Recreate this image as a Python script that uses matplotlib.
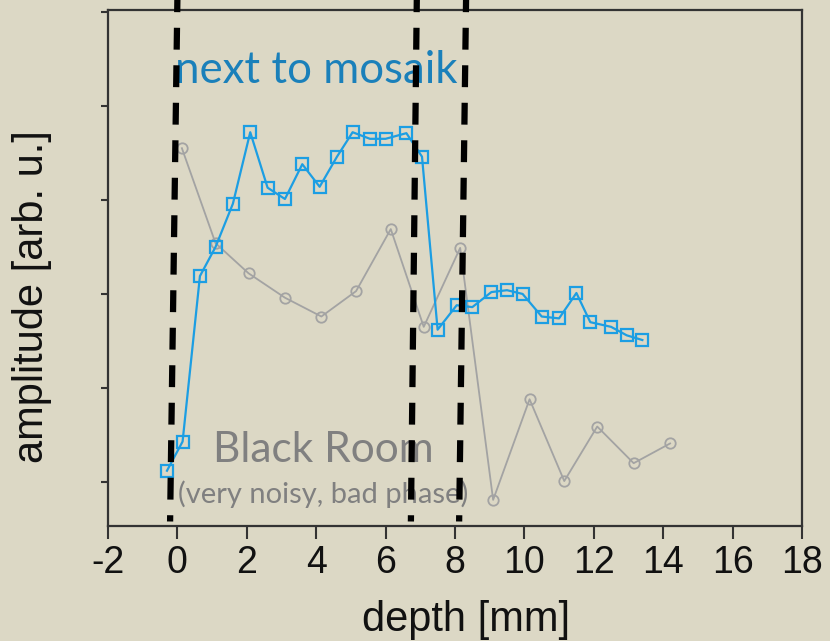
import matplotlib
matplotlib.use("Agg")
import matplotlib.pyplot as plt

plt.rcParams["axes.unicode_minus"] = False

# depth scan next to the mosaic (blue) and in the black room (grey)
mosaik_depth = [-0.3, 0.15, 0.65, 1.1, 1.6, 2.1, 2.6, 3.1, 3.6, 4.1, 4.6, 5.05,
                5.55, 6.0, 6.6, 7.05, 7.5, 8.05, 8.5, 9.05, 9.5, 9.95, 10.5,
                11.0, 11.5, 11.9, 12.5, 12.95, 13.4]
mosaik_amp = [0.12, 0.43, 2.19, 2.50, 2.96, 3.72, 3.13, 3.01, 3.38, 3.14, 3.46,
              3.72, 3.65, 3.65, 3.71, 3.46, 1.62, 1.88, 1.86, 2.02, 2.04, 2.00,
              1.76, 1.74, 2.01, 1.70, 1.65, 1.56, 1.51]

black_depth = [0.13, 1.1, 2.05, 3.1, 4.15, 5.15, 6.15, 7.1, 8.15, 9.1, 10.15,
               11.15, 12.1, 13.15, 14.2]
black_amp = [3.55, 2.54, 2.22, 1.96, 1.76, 2.03, 2.69, 1.65, 2.49, -0.19, 0.88,
             0.01, 0.59, 0.20, 0.41]

# layer boundaries (slightly slanted dashed lines): x at top / x at bottom
bound_top = [0.0, 6.9, 8.32]
bound_bot = [-0.21, 6.73, 8.12]

xticks = list(range(-2, 19, 2))
yticks = [0, 1, 2, 3, 4, 5]

bg = "#DCD8C5"
fig = plt.figure(figsize=(8.3, 6.41), dpi=100, facecolor=bg)
ax = fig.add_axes([0.1301, 0.1794, 0.8361, 0.8050], facecolor=bg)

ax.plot(black_depth, black_amp, color="#a3a3a3", lw=1.3, marker="o", ms=7.5,
        mfc="none", mec="#a3a3a3", mew=1.3, zorder=3)
ax.plot(mosaik_depth, mosaik_amp, color="#1c9ee3", lw=1.6, marker="s", ms=8,
        mfc="none", mec="#1c9ee3", mew=1.6, zorder=4)

for xt, xb in zip(bound_top, bound_bot):
    ax.plot([xt, xb], [5.13, -0.42], color="black", lw=4.5,
            linestyle=(1.5, (3.5, 2.5)), clip_on=False, zorder=10)

ax.text(-0.07, 4.24, "next to mosaik", family="Lato", fontsize=31.5,
        color="#1a80ba", ha="left", va="baseline", zorder=6)
ax.text(4.2, 0.21, "Black Room", family="Lato", fontsize=30.5,
        color="#808080", ha="center", va="baseline", zorder=6)
ax.text(4.2, -0.22, "(very noisy, bad phase)", family="Lato", fontsize=21,
        color="#808080", ha="center", va="baseline", zorder=6)

ax.set_xlim(-2, 18)
ax.set_ylim(-0.468, 5.02)
ax.set_xticks(xticks)
ax.set_yticks(yticks)
ax.set_yticklabels([])
ax.tick_params(axis="x", direction="out", length=9, width=1.5, pad=5,
               labelsize=27, colors="#333333", labelcolor="#111111")
ax.tick_params(axis="y", direction="out", length=5, width=1.5,
               colors="#333333")
for lab in ax.get_xticklabels():
    lab.set_family("Liberation Sans")
for sp in ax.spines.values():
    sp.set_color("#333333")
    sp.set_linewidth(1.6)

ax.set_xlabel("depth [mm]", family="Liberation Sans", fontsize=30,
              color="#111111")
ax.set_ylabel("amplitude [arb. u.]", family="Liberation Sans", fontsize=30,
              color="#111111")
ax.xaxis.set_label_coords(0.516, -0.143)
ax.yaxis.set_label_coords(-0.08, 0.444)

fig.savefig("out.png", dpi=100, facecolor=bg)
